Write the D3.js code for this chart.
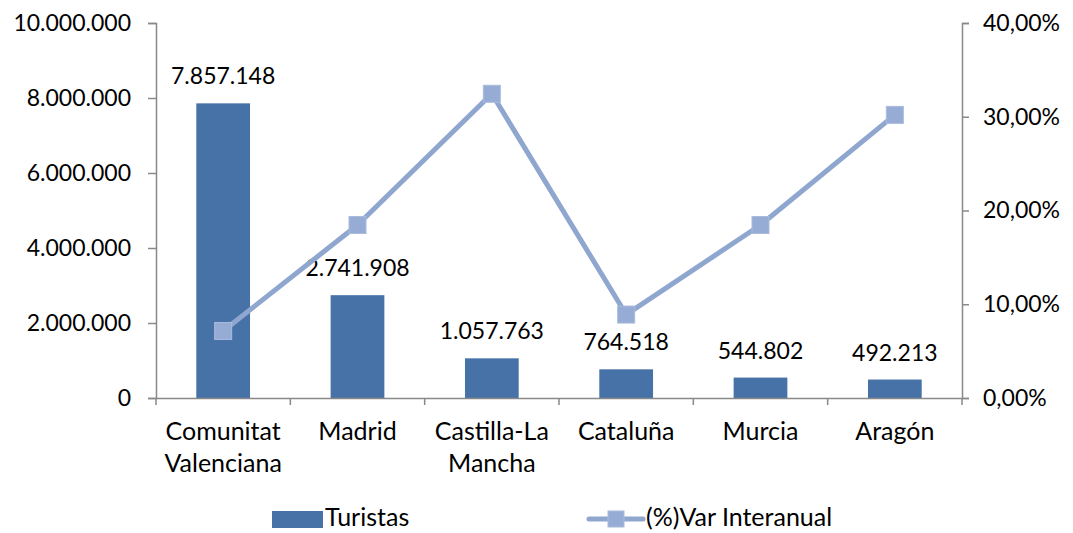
<!DOCTYPE html>
<html><head><meta charset="utf-8">
<script src="https://cdn.jsdelivr.net/npm/d3@7"></script>
<style>body{margin:0;background:#fff;} text{font-family:Lato, "Liberation Sans", sans-serif; fill:#000;}</style>
</head><body>
<svg id="c" width="1073" height="533"></svg>
<script>
const categories = [["Comunitat","Valenciana"],["Madrid"],["Castilla-La","Mancha"],["Cataluña"],["Murcia"],["Aragón"]];
const turistas = [7857148, 2741908, 1057763, 764518, 544802, 492213];
const varInteranual = [7.15, 18.45, 32.45, 8.9, 18.45, 30.2];
const leftTicks = [0, 2000000, 4000000, 6000000, 8000000, 10000000];
const rightTicks = [0, 10, 20, 30, 40];
const seriesNames = ["Turistas", "(%)Var Interanual"];

const svg = d3.select("#c");
const L = 156, R = 962, T = 23, B = 398;
const FS = 23, FT = 25;
const barColor = "#4672A8", lineColor = "#8FA6CF", markColor = "#97ACD4", axisColor = "#898989";

const x = d3.scaleBand().domain(d3.range(categories.length)).range([L, R]).padding(0);
const yL = d3.scaleLinear().domain([0, 10000000]).range([B, T]);
const yR = d3.scaleLinear().domain([0, 40]).range([B, T]);

const fmtN = v => d3.format(",")(v).replace(/,/g, ".");
const fmtP = v => v.toFixed(2).replace(".", ",") + "%";

// bars
const bw = x.bandwidth() * 0.4;
svg.append("g").selectAll("rect").data(turistas).join("rect")
  .attr("x", (d, i) => x(i) + x.bandwidth() / 2 - bw / 2)
  .attr("y", d => yL(d)).attr("width", bw).attr("height", d => B - yL(d))
  .attr("fill", barColor);

// left axis
const gL = svg.append("g").attr("transform", `translate(${L},0)`)
  .call(d3.axisLeft(yL).tickValues(leftTicks).tickFormat(fmtN).tickSize(8).tickPadding(17));
// right axis
const gR = svg.append("g").attr("transform", `translate(${R},0)`)
  .call(d3.axisRight(yR).tickValues(rightTicks).tickFormat(fmtP).tickSize(7).tickPadding(14));
// bottom axis
const gB = svg.append("g").attr("transform", `translate(0,${B})`)
  .call(d3.axisBottom(x).tickValues([]).tickSize(0));
gB.selectAll(".b").data(d3.range(categories.length + 1)).join("line")
  .attr("x1", i => L + i * x.bandwidth()).attr("x2", i => L + i * x.bandwidth())
  .attr("y1", 0).attr("y2", 7).attr("stroke", axisColor).attr("stroke-width", 1.5);

[gL, gR, gB].forEach(g => {
  g.select(".domain").attr("stroke", axisColor).attr("stroke-width", 1.5);
  g.selectAll(".tick line").attr("stroke", axisColor).attr("stroke-width", 1.5);
  g.selectAll(".tick text").attr("font-size", FS).attr("font-family", "Lato").attr("fill", "#000");
});

// category labels
const cl = svg.append("g").selectAll("text").data(categories).join("text")
  .attr("text-anchor", "middle").attr("font-size", FT)
  .attr("x", (d, i) => x(i) + x.bandwidth() / 2);
cl.each(function(d) {
  d3.select(this).selectAll("tspan").data(d).join("tspan")
    .attr("x", d3.select(this).attr("x"))
    .attr("y", (t, j) => 440 + j * 32).text(t => t);
});

// data labels
svg.append("g").selectAll("text").data(turistas).join("text")
  .attr("text-anchor", "middle").attr("font-size", FS)
  .attr("x", (d, i) => x(i) + x.bandwidth() / 2)
  .attr("y", d => yL(d) - 27).attr("dy", "0.35em").text(fmtN);

// line
const line = d3.line().x((d, i) => x(i) + x.bandwidth() / 2).y(d => yR(d));
svg.append("path").datum(varInteranual).attr("d", line)
  .attr("fill", "none").attr("stroke", lineColor).attr("stroke-width", 5).attr("stroke-linejoin", "round");
const ms = 17;
svg.append("g").selectAll("rect").data(varInteranual).join("rect")
  .attr("x", (d, i) => x(i) + x.bandwidth() / 2 - ms / 2).attr("y", d => yR(d) - ms / 2)
  .attr("width", ms).attr("height", ms).attr("fill", markColor).attr("stroke", "#A9BBDD").attr("stroke-width", 1);

// legend
const lg = svg.append("g");
lg.append("rect").attr("x", 272).attr("y", 511).attr("width", 51).attr("height", 17).attr("fill", barColor);
lg.append("text").attr("x", 325).attr("y", 526).attr("font-size", FT).text(seriesNames[0]);
lg.append("line").attr("x1", 589).attr("x2", 643).attr("y1", 519).attr("y2", 519)
  .attr("stroke", lineColor).attr("stroke-width", 5).attr("stroke-linecap", "round");
lg.append("rect").attr("x", 616 - 8).attr("y", 519 - 8).attr("width", 16).attr("height", 16)
  .attr("fill", markColor).attr("stroke", "#A9BBDD");
lg.append("text").attr("x", 646).attr("y", 526).attr("font-size", FT).text(seriesNames[1]);
</script>
</body></html>
